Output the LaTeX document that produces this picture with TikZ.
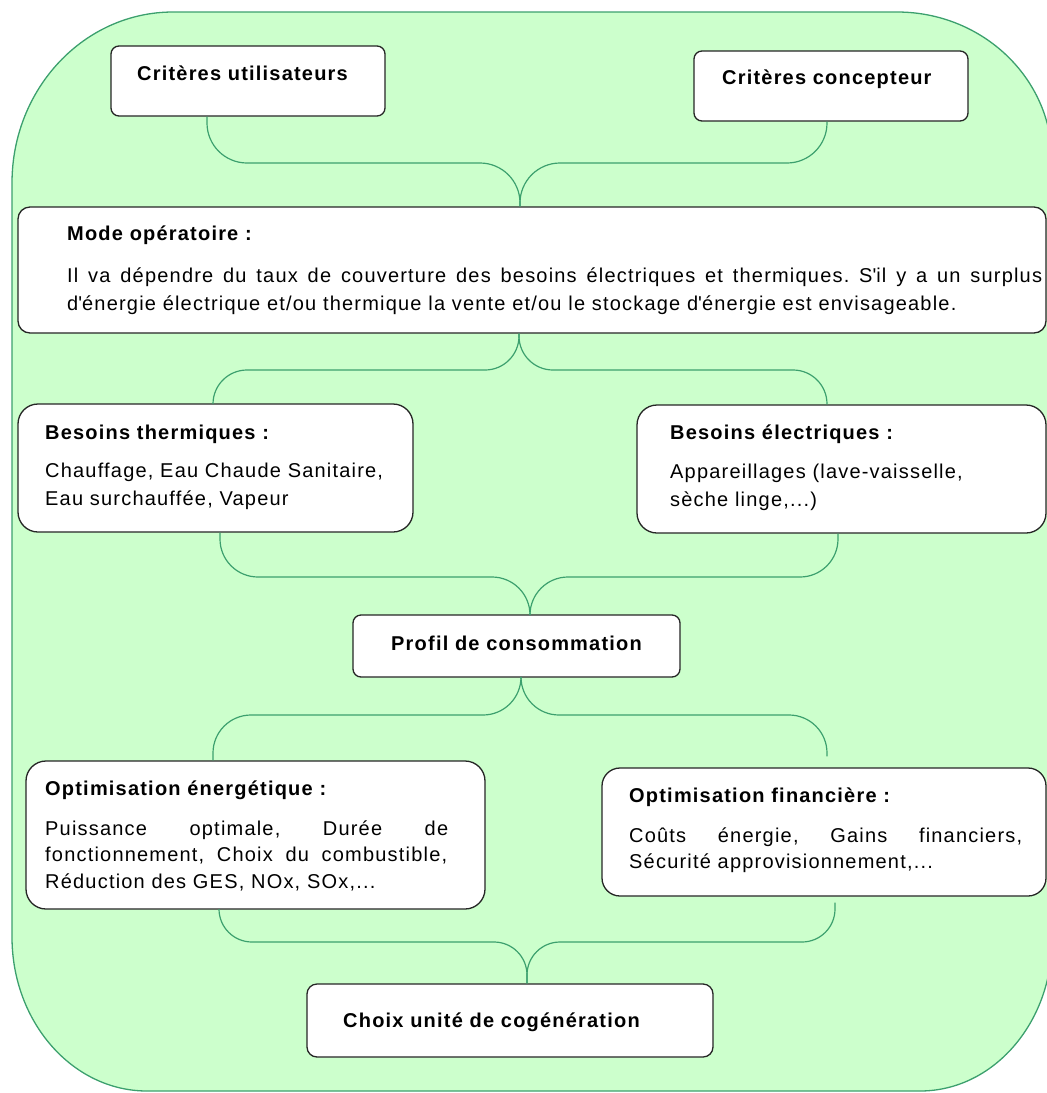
\documentclass[tikz,border=0pt]{standalone}
\usepackage{fontspec}
\setmainfont{Liberation Sans}[LetterSpace=6]
\definecolor{panelgreen}{RGB}{204,255,204}
\definecolor{linegreen}{RGB}{60,160,110}
\frenchspacing
\begin{document}
\begin{tikzpicture}[x=1pt,y=-1pt,
  box/.style={draw=black!85, fill=white, line width=1.3pt, rectangle, inner sep=0pt},
  conn/.style={draw=linegreen, line width=1.2pt},
  lbl/.style={anchor=base west, inner sep=0pt, font=\bfseries\fontsize{20}{24}\selectfont},
  txt/.style={anchor=base west, inner sep=0pt, font=\fontsize{20}{24}\selectfont},
]
\useasboundingbox (0,0) rectangle (1047,1093);

% green background panel
\draw[fill=panelgreen, draw=linegreen, line width=1.3pt]
  (173,12) -- (897,12) .. controls (982.6,12) and (1052,78.3) .. (1052,160)
  -- (1052,940) .. controls (1052,1023.4) and (992.9,1091) .. (920,1091)
  -- (147,1091) .. controls (72.5,1091) and (12,1022) .. (12,937)
  -- (12,183) .. controls (12,88.6) and (84.1,12) .. (173,12) -- cycle;

% boxes
\node[box, rounded corners=8pt,  minimum width=274pt,  minimum height=70pt]  (b1) at (248,81) {};
\node[box, rounded corners=8pt,  minimum width=274pt,  minimum height=70pt]  (b2) at (831,86) {};
\node[box, rounded corners=12pt, minimum width=1028pt, minimum height=126pt] (b3) at (532,270) {};
\node[box, rounded corners=20pt, minimum width=395pt,  minimum height=128pt] (b4) at (215.5,468) {};
\node[box, rounded corners=20pt, minimum width=409pt,  minimum height=128pt] (b5) at (841.5,469) {};
\node[box, rounded corners=8pt,  minimum width=327pt,  minimum height=62pt]  (b6) at (516.5,646) {};
\node[box, rounded corners=20pt, minimum width=459pt,  minimum height=148pt] (b7) at (255.5,835) {};
\node[box, rounded corners=18pt, minimum width=444pt,  minimum height=128pt] (b8) at (824,832) {};
\node[box, rounded corners=10pt, minimum width=406pt,  minimum height=73pt]  (b9) at (510,1020.5) {};

% junction points of the brace connectors
\coordinate (j1) at (520,163);
\coordinate (j2) at (519,370);
\coordinate (j3) at (530,577);
\coordinate (j4) at (521,715);
\coordinate (j5) at (527,942);

% connectors
\draw[conn, rounded corners=40pt] ([xshift=-41pt]b1.south) |- (j1) -- (j1 |- b3.north);
\draw[conn, rounded corners=40pt] ([xshift=-4pt]b2.south) |- (j1) -- (j1 |- b3.north);
\draw[conn, rounded corners=34pt] ([xshift=-13pt]b3.south) -- (j2) -| ([xshift=-2.5pt]b4.north);
\draw[conn, rounded corners=34pt] ([xshift=-13pt]b3.south) -- (j2) -| ([xshift=-14.5pt]b5.north);
\draw[conn, rounded corners=38pt] ([xshift=4.5pt]b4.south) |- (j3) -- (j3 |- b6.north);
\draw[conn, rounded corners=38pt] ([xshift=-3.5pt]b5.south) |- (j3) -- (j3 |- b6.north);
\draw[conn, rounded corners=38pt] ([xshift=4.5pt]b6.south) -- (j4) -| ([xshift=-42.5pt]b7.north);
\draw[conn, rounded corners=38pt] ([xshift=4.5pt]b6.south) -- (j4) -| ([xshift=3pt,yshift=11pt]b8.north);
\draw[conn, rounded corners=33pt] ([xshift=-36.5pt]b7.south) |- (j5) -- (j5 |- b9.north);
\draw[conn, rounded corners=33pt] ([xshift=11pt,yshift=-6pt]b8.south) |- (j5) -- (j5 |- b9.north);

% texts
\node[lbl] (t1) at (137,80) {Critères utilisateurs};
\node[lbl] (t2) at (722,84) {Critères concepteur};

\node[lbl] (t3) at (67,240) {Mode opératoire :};
\node[txt] (t3a) at (67,282) {\makebox[975pt][s]{Il va dépendre du taux de couverture des besoins électriques et thermiques. S\textquotesingle il y a un surplus}};
\node[txt] (t3b) at (67,310) {d\textquotesingle énergie électrique et/ou thermique la vente et/ou le stockage d\textquotesingle énergie est envisageable.};

\node[lbl] (t4) at (45,439) {Besoins thermiques :};
\node[txt] (t4a) at (45,477) {Chauffage, Eau Chaude Sanitaire,};
\node[txt] (t4b) at (45,505) {Eau surchauffée, Vapeur};

\node[lbl] (t5) at (670,439) {Besoins électriques :};
\node[txt] (t5a) at (670,478) {Appareillages (lave-vaisselle,};
\node[txt] (t5b) at (670,506) {sèche linge,...)};

\node[lbl] (t6) at (391,650) {Profil de consommation};

\node[lbl] (t7) at (45,795) {Optimisation énergétique :};
\node[txt] (t7a) at (45,835) {\makebox[403pt][s]{Puissance optimale, Durée de}};
\node[txt] (t7b) at (45,861.5) {\makebox[402pt][s]{fonctionnement, Choix du combustible,}};
\node[txt] (t7c) at (45,888) {Réduction des GES, NOx, SOx,...};

\node[lbl] (t8) at (629,802) {Optimisation financière :};
\node[txt] (t8a) at (629,842) {\makebox[393pt][s]{Coûts énergie, Gains financiers,}};
\node[txt] (t8b) at (629,868) {Sécurité approvisionnement,...};

\node[lbl] (t9) at (343,1027) {Choix unité de cogénération};
\end{tikzpicture}
\end{document}
